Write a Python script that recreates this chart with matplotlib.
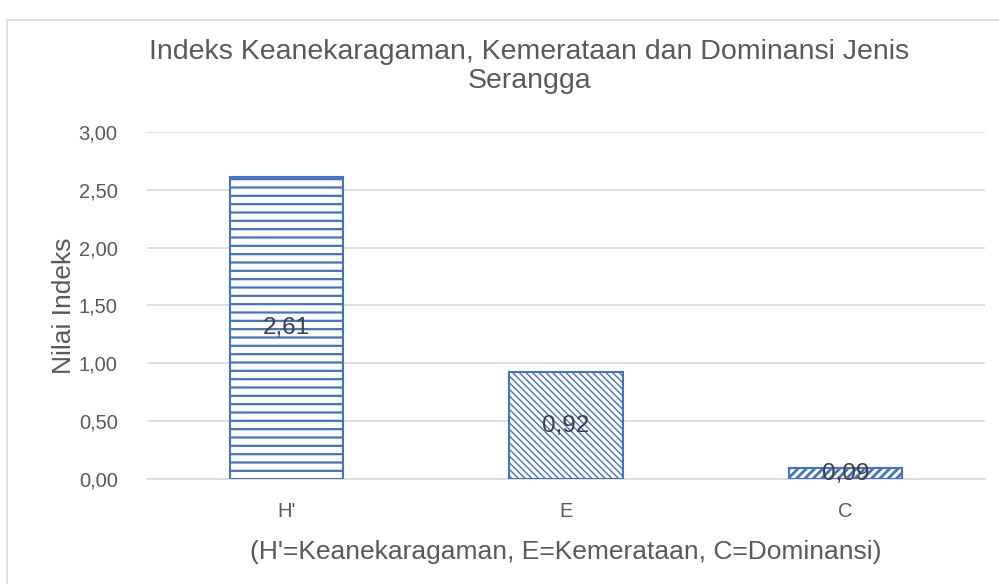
import numpy as np
import matplotlib
matplotlib.use('Agg')
from matplotlib import pyplot as plt
from matplotlib.patches import Rectangle

# data
categories = ["H'", "E", "C"]
values = [2.61, 0.92, 0.09]
value_labels = ['2,61', '0,92', '0,09']
hatches = ['--', '\\\\\\\\\\', '////']
y_ticks = [0.0, 0.5, 1.0, 1.5, 2.0, 2.5, 3.0]
y_tick_labels = ['0,00', '0,50', '1,00', '1,50', '2,00', '2,50', '3,00']

TITLE = 'Indeks Keanekaragaman, Kemerataan dan Dominansi Jenis\nSerangga'
X_LABEL = "(H'=Keanekaragaman, E=Kemerataan, C=Dominansi)"
Y_LABEL = 'Nilai Indeks'

BLUE = '#4472C4'
GRID = '#D9D9D9'
TEXT = '#595959'

plt.rcParams['font.family'] = ['Liberation Sans', 'DejaVu Sans']

fig = plt.figure(figsize=(9.99, 5.84), dpi=100)
ax = fig.add_axes([0.147, 0.18, 0.839, 0.594])

# outer chart border (cut off at right/bottom)
fig.patches.append(Rectangle((7 / 999, -0.1), 1.2, 1 - 20 / 584 + 0.1,
                             transform=fig.transFigure, fill=False,
                             edgecolor=GRID, linewidth=1.2))

x = np.arange(len(categories))
bars = ax.bar(x, values, width=0.405, color='white', edgecolor=BLUE,
              linewidth=1.5, zorder=3)
for bar, h, lw in zip(bars, hatches, [1.6, 1.0, 2.0]):
    bar.set_hatch(h)
    try:
        bar.set_hatch_linewidth(lw)
    except AttributeError:
        pass

for xi, v, lab in zip(x, values, value_labels):
    ax.text(xi, v / 2, lab, ha='center', va='center', fontsize=17.5,
            color='#404040', zorder=4)

ax.set_xlim(-0.5, len(categories) - 0.5)
ax.set_ylim(0, 3.0)
ax.set_yticks(y_ticks)
ax.set_yticklabels(y_tick_labels)
ax.set_xticks(x)
ax.set_xticklabels(categories)
ax.tick_params(length=0, labelsize=14.5, labelcolor=TEXT)
ax.tick_params(axis='x', pad=17)
ax.tick_params(axis='y', pad=21)
ax.grid(axis='y', color=GRID, linewidth=1.2, zorder=0)
for s in ['top', 'right', 'left']:
    ax.spines[s].set_visible(False)
ax.spines['bottom'].set_color(GRID)
ax.spines['bottom'].set_linewidth(1.2)

ax.set_ylabel(Y_LABEL, fontsize=19, color=TEXT, labelpad=2)
ax.set_xlabel(X_LABEL, fontsize=19, color=TEXT, labelpad=13)
fig.text(0.53, 0.934, TITLE, ha='center', va='top', fontsize=20.5,
         color=TEXT, linespacing=1.15)

fig.savefig('out.png', dpi=100)
